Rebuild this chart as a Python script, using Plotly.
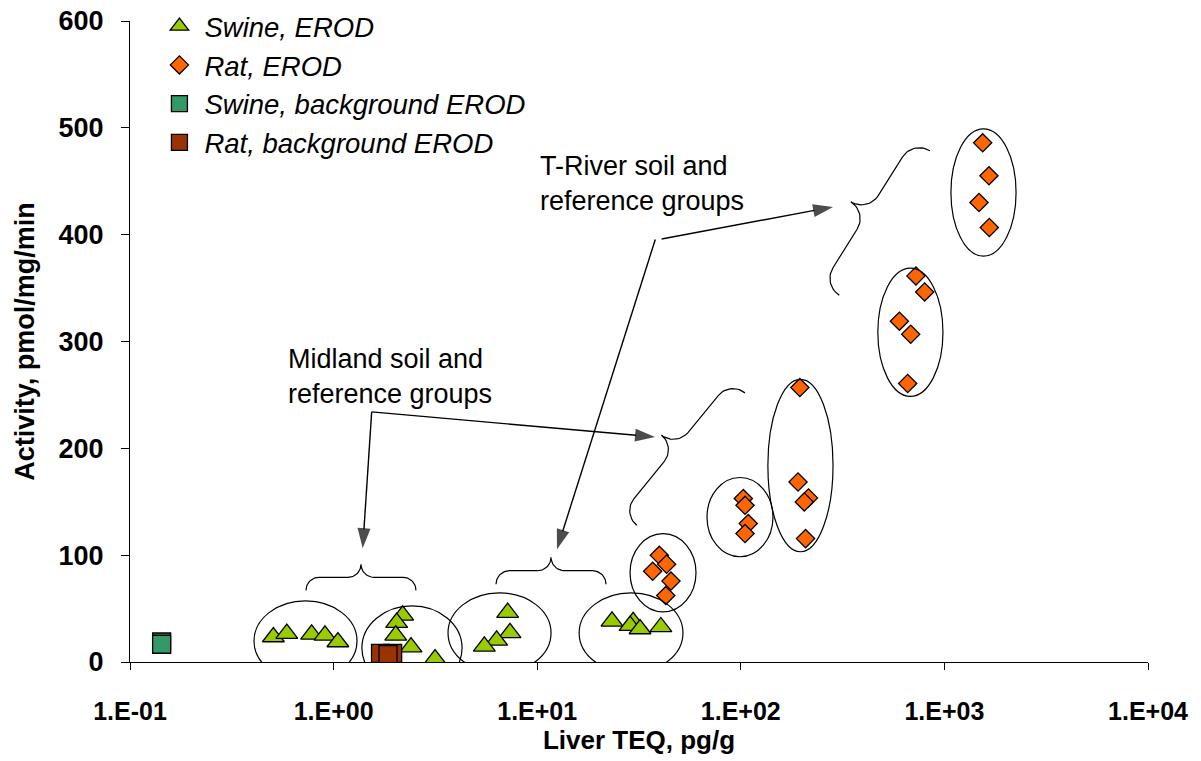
import numpy as np
import plotly.graph_objects as go

# ---------------- data ----------------
swine_teq = [0.506, 0.589, 0.78, 0.907, 1.05,
             2.185, 2.04, 2.02, 2.40, 3.15,
             7.16, 7.35, 6.32, 5.5,
             23.3, 29.6, 28.6, 32.0, 40.5]
swine_erod = [23.4, 26.6, 25.9, 25.0, 18.7,
              43.7, 36.9, 25.0, 14.0, 2.8,
              46.3, 27.2, 20.3, 14.7,
              38.1, 37.5, 34.1, 30.9, 32.8]

rat_teq = [39.8, 43.2, 36.9, 45.4, 42.8,
           102.9, 104.9, 108.8, 104.9,
           195, 191, 215, 205, 208,
           725, 800, 601, 683, 660,
           1542, 1655, 1479, 1662]
rat_erod = [99.9, 91.5, 84.9, 75.8, 62.2,
            153.0, 146.7, 129.6, 120.2,
            256.9, 168.5, 153.6, 149.8, 115.5,
            361.4, 346.4, 319.0, 306.8, 260.7,
            486.0, 455.1, 430.1, 406.7]

swine_bg_teq = [0.143, 0.143]
swine_bg_erod = [18.7, 16.6]

rat_bg_teq = [1.70, 1.95, 1.85]
rat_bg_erod = [8.0, 8.0, 7.0]

x_tickvals = [0.1, 1, 10, 100, 1000, 10000]
x_ticktext = ["1.E-01", "1.E+00", "1.E+01", "1.E+02", "1.E+03", "1.E+04"]
y_tickvals = [0, 100, 200, 300, 400, 500, 600]

# group ellipses: (centre log10 TEQ, centre activity, half-width in decades, half-height)
ellipses = [(-0.138, 19.7, 0.253, 37.5),
            (0.385, 13.1, 0.246, 39.4),
            (0.815, 27.2, 0.253, 37.5),
            (1.461, 27.2, 0.255, 37.5),
            (1.618, 83.5, 0.162, 36.6),
            (1.996, 135.6, 0.162, 37.1),
            (2.293, 183.9, 0.160, 80.7),
            (2.833, 308.6, 0.160, 60.0),
            (3.192, 439.5, 0.160, 59.6)]

# braces: end points (log10 TEQ, activity), curl radius (px)
braces = [((-0.1356, 67.1), (0.4047, 67.1), 13),
          ((0.7976, 72.8), (1.338, 72.8), 13.5),
          ((1.4887, 128.0), (2.0206, 251.9), 19),
          ((2.4838, 343.3), (2.9293, 478.5), 20)]

# arrows: tail (log10 TEQ, activity) -> head
arrows = [((0.1871, 234.1), (0.1429, 106.5)),
          ((0.1871, 234.1), (1.5786, 210.7)),
          ((1.611, 396.0), (2.4528, 426.0)),
          ((1.580, 395.5), (1.0972, 105.5))]

# ---------------- figure ----------------
DX = 203.6   # px per decade
DY = 1.068   # px per activity unit
FONT = "Arial, Liberation Sans, sans-serif"

fig = go.Figure()

fig.add_trace(go.Scatter(
    x=swine_teq, y=swine_erod, mode="markers", name="Swine, EROD",
    legendgroup="a",
    marker=dict(symbol="triangle-up", size=19, color="#99CC00",
                line=dict(color="black", width=1.3))))
fig.add_trace(go.Scatter(
    x=rat_teq, y=rat_erod, mode="markers", name="Rat, EROD",
    legendgroup="b",
    marker=dict(symbol="diamond", size=14, color="#FF6600",
                line=dict(color="black", width=1.3))))
fig.add_trace(go.Scatter(
    x=swine_bg_teq, y=swine_bg_erod, mode="markers", name="Swine, background EROD",
    legendgroup="c",
    marker=dict(symbol="square", size=18, color="#339966",
                line=dict(color="black", width=1.3))))
fig.add_trace(go.Scatter(
    x=rat_bg_teq, y=rat_bg_erod, mode="markers", name="Rat, background EROD",
    legendgroup="d",
    marker=dict(symbol="square", size=18, color="#993300",
                line=dict(color="black", width=1.3))))

# ellipses
for cx, cy, rx, ry in ellipses:
    fig.add_shape(type="circle", xref="x", yref="y",
                  x0=10 ** (cx - rx), x1=10 ** (cx + rx),
                  y0=cy - ry, y1=cy + ry,
                  line=dict(color="black", width=1.2), layer="above")


def brace_path(p0, p1, r, n=16):
    X0, Y0 = p0[0] * DX, -p0[1] * DY
    X1, Y1 = p1[0] * DX, -p1[1] * DY
    L = np.hypot(X1 - X0, Y1 - Y0)
    dx, dy = (X1 - X0) / L, (Y1 - Y0) / L
    nx, ny = dy, -dx
    a1 = np.linspace(np.pi, np.pi / 2, n)
    t1 = r + r * np.cos(a1)
    v1 = r * np.sin(a1)
    a2 = np.linspace(-np.pi / 2, 0, n)
    t2 = L / 2 - r + r * np.cos(a2)
    v2 = 2 * r + r * np.sin(a2)
    t = np.concatenate([t1, t2])
    v = np.concatenate([v1, v2])
    t = np.concatenate([t, (L - t)[::-1]])
    v = np.concatenate([v, v[::-1]])
    X = X0 + t * dx + v * nx
    Y = Y0 + t * dy + v * ny
    return 10 ** (X / DX), -Y / DY


for p0, p1, r in braces:
    bx, by = brace_path(p0, p1, r)
    fig.add_trace(go.Scatter(x=bx, y=by, mode="lines", showlegend=False,
                             hoverinfo="skip",
                             line=dict(color="black", width=1.2)))

for tail, head in arrows:
    fig.add_trace(go.Scatter(
        x=[10 ** tail[0], 10 ** head[0]], y=[tail[1], head[1]],
        mode="lines+markers", showlegend=False, hoverinfo="skip",
        line=dict(color="black", width=1.4),
        marker=dict(symbol="arrow", angleref="previous", size=[0, 21],
                    color="black", line=dict(width=0))))

fig.add_annotation(x=-0.2338, y=267.5, xref="x", yref="y",
                   text="Midland soil and<br>reference groups",
                   showarrow=False, xanchor="left", yanchor="middle", align="left",
                   font=dict(family=FONT, size=27, color="black"))
fig.add_annotation(x=1.0039, y=448.2, xref="x", yref="y",
                   text="T-River soil and<br>reference groups",
                   showarrow=False, xanchor="left", yanchor="middle", align="left",
                   font=dict(family=FONT, size=27, color="black"))

fig.update_layout(
    width=1201, height=761,
    margin=dict(l=130, r=53, t=21, b=99, autoexpand=False),
    paper_bgcolor="white", plot_bgcolor="white",
    font=dict(family=FONT, color="black"),
    showlegend=True,
    legend=dict(x=0.024, y=1.03, xanchor="left", yanchor="top",
                bgcolor="rgba(0,0,0,0)", traceorder="grouped",
                tracegroupgap=0, itemwidth=40,
                font=dict(family=FONT, size=27.5, style="italic", color="black")),
)

fig.update_xaxes(
    type="log", range=[-1, 4], tickvals=x_tickvals, ticktext=x_ticktext,
    showline=True, linecolor="black", linewidth=1, ticks="outside",
    ticklen=7, tickcolor="black", showgrid=False, zeroline=False,
    ticklabelstandoff=20,
    tickfont=dict(family=FONT, size=25, weight="bold", color="black"),
    title=dict(text="Liver TEQ, pg/g", standoff=3,
               font=dict(family=FONT, size=26, weight="bold", color="black")))
fig.update_yaxes(
    range=[0, 600], tickvals=y_tickvals,
    showline=True, linecolor="black", linewidth=1, ticks="outside",
    ticklen=8, tickcolor="black", showgrid=False, zeroline=False,
    ticklabelstandoff=12,
    tickfont=dict(family=FONT, size=27, weight="bold", color="black"),
    title=dict(text="Activity, pmol/mg/min", standoff=16,
               font=dict(family=FONT, size=27, weight="bold", color="black")))

# remove the default 8 px page margin so the figure sits at the page origin
fig.write_html("out.html",
               config={"displayModeBar": False},
               post_script="document.body.style.margin='0';")
